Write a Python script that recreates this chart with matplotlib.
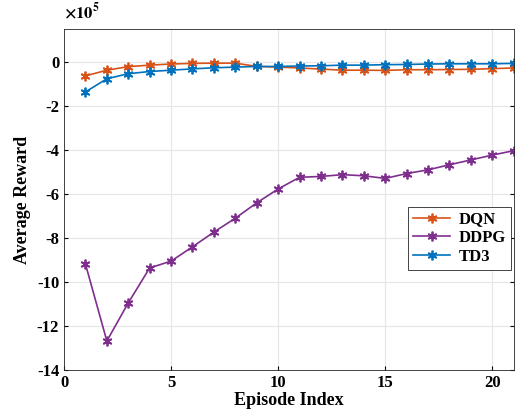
import numpy as np
import matplotlib.pyplot as plt

plt.rcParams['font.family'] = ['Liberation Serif', 'DejaVu Serif']
plt.rcParams['font.weight'] = 'bold'
plt.rcParams['mathtext.fontset'] = 'stix'
plt.rcParams['axes.unicode_minus'] = False

episodes = np.arange(1, 22)
# average reward, in units of 1e5
dqn = [-0.63, -0.37, -0.21, -0.14, -0.09, -0.06, -0.05, -0.05, -0.20, -0.23, -0.27,
       -0.32, -0.37, -0.37, -0.38, -0.35, -0.35, -0.34, -0.33, -0.30, -0.27]
ddpg = [-9.18, -12.68, -10.95, -9.36, -9.05, -8.40, -7.73, -7.10, -6.40, -5.77, -5.24,
        -5.20, -5.12, -5.17, -5.29, -5.07, -4.90, -4.67, -4.45, -4.23, -4.03]
td3 = [-1.36, -0.76, -0.53, -0.43, -0.37, -0.31, -0.26, -0.23, -0.20, -0.20, -0.18,
       -0.17, -0.14, -0.14, -0.12, -0.11, -0.09, -0.08, -0.08, -0.08, -0.06]

fig = plt.figure(figsize=(5.18, 4.15), dpi=100)
ax = fig.add_axes([0.1236, 0.1084, 0.868, 0.8216])

star = (6, 2, 0)  # asterisk like matlab '*'
for vals, col, name in [(dqn, '#D95319', 'DQN'), (ddpg, '#7E2F8E', 'DDPG'), (td3, '#0072BD', 'TD3')]:
    ax.plot(episodes, vals, color=col, marker=star, markersize=7, mew=1.3, lw=1.2, label=name)

ax.set_xlim(0, 21)
ax.set_ylim(-14, 1.5)
ax.set_xticks([0, 5, 10, 15, 20])
ax.set_yticks(np.arange(-14, 1, 2))
ax.grid(True, color='#e6e6e6', lw=0.8)
ax.set_axisbelow(True)
ax.tick_params(direction='in', labelsize=12, top=False, right=True, length=3)
for s in ax.spines.values():
    s.set_color('#262626')
    s.set_linewidth(0.6)

ax.set_xlabel('Episode Index', fontsize=13, fontweight='bold', labelpad=1)
ax.set_ylabel('Average Reward', fontsize=13, fontweight='bold', labelpad=4)
ax.text(0, 1.02, r'$\times10^{5}$', transform=ax.transAxes, fontsize=12, va='bottom', ha='left')

leg = ax.legend(loc='center right', bbox_to_anchor=(0.997, 0.387), fontsize=12,
                fancybox=False, edgecolor='#262626', framealpha=1, borderaxespad=0.1,
                handlelength=2.2, borderpad=0.3, labelspacing=0.15, handletextpad=0.5)
leg.get_frame().set_linewidth(0.6)

fig.savefig('out.png', dpi=100)
